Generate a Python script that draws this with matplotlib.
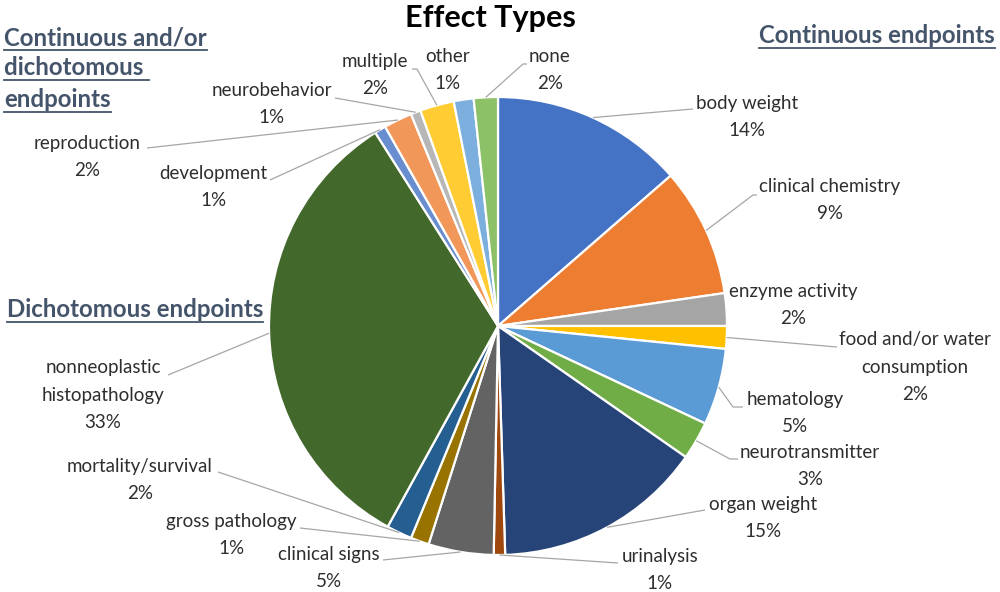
import numpy as np
import matplotlib

matplotlib.use("Agg")
import matplotlib.pyplot as plt

plt.rcParams["font.family"] = ["Lato", "DejaVu Sans"]

# slices clockwise from 12 o'clock, shares in %
effect_types = [
    "body weight", "clinical chemistry", "enzyme activity",
    "food and/or water\nconsumption", "hematology", "neurotransmitter",
    "organ weight", "urinalysis", "clinical signs", "gross pathology",
    "mortality/survival", "nonneoplastic\nhistopathology", "development",
    "reproduction", "neurobehavior", "multiple", "other", "none",
]
shares = [13.6, 9.1, 2.3, 1.6, 5.4, 2.7, 14.8, 0.8, 4.6, 1.3,
          1.8, 33.0, 0.8, 2.0, 0.7, 2.4, 1.4, 1.7]
slice_colors = [
    "#4472C4", "#ED7D31", "#A5A5A5", "#FFC000", "#5B9BD5", "#70AD47",
    "#264478", "#9E480E", "#636363", "#997300", "#255E91", "#43682B",
    "#698ED0", "#F1975A", "#B7B7B7", "#FFCD33", "#7CAFDD", "#8CC168",
]
group_headers = ["Continuous endpoints", "Dichotomous endpoints",
                 "Continuous and/or", "dichotomous ", "endpoints"]

# layout in image pixels (x right, y down)
W, H = 1000, 592
CX, CY, R = 498, 326, 229
label_xy = [(747, 117), (830, 200), (793, 305), (915, 367), (795, 413),
            (810, 466), (763, 518), (660, 570), (329, 568), (231, 535),
            (140, 480), (103, 395), (213, 187), (87, 157), (272, 104),
            (375, 75), (448, 70), (550, 70)]
leader_pts = [
    [(693, 109)], [(753, 195), (757, 195)], [], [(837, 347)],
    [(733, 407), (743, 407)], [(730, 459), (738, 459)], [(705, 510)],
    [(618, 563)], [(383, 560)], [(300, 528)], [(218, 472)], [(168, 375)],
    [(270, 180)], [(147, 148)], [(335, 98)], [(417, 69), (412, 69)], [],
    [(523, 64), (527, 64)],
]
header_xy = [(759, 43), (7, 317), (4, 45), (4, 75), (4, 107)]

LABEL_SIZE = 13.5
LABEL_COLOR = "#2E2E2E"
LEADER_COLOR = "#A6A6A6"
HEADER_COLOR = "#44546A"


def py(y):
    return H - y


fig = plt.figure(figsize=(W / 100, H / 100), dpi=100)
ax = fig.add_axes([0, 0, 1, 1])

wedges, _ = ax.pie(
    shares,
    colors=slice_colors,
    startangle=90,
    counterclock=False,
    center=(CX, py(CY)),
    radius=R,
    wedgeprops=dict(edgecolor="white", linewidth=1.6),
)
ax.set_xlim(0, W)
ax.set_ylim(0, H)
ax.set_aspect("equal")
ax.axis("off")

total = sum(shares)
for w, name, v, (lx, ly), pts in zip(wedges, effect_types, shares, label_xy, leader_pts):
    ax.text(lx, py(ly), f"{name}\n{100 * v / total:.0f}%", ha="center", va="center",
            multialignment="center", fontsize=LABEL_SIZE, color=LABEL_COLOR,
            linespacing=1.72)
    if pts:
        mid = np.deg2rad((w.theta1 + w.theta2) / 2)
        xs = [CX + R * np.cos(mid)] + [p[0] for p in pts]
        ys = [py(CY) + R * np.sin(mid)] + [py(p[1]) for p in pts]
        ax.plot(xs, ys, color=LEADER_COLOR, lw=0.9, solid_capstyle="butt")

ax.text(490, py(27), "Effect Types", ha="center", va="baseline",
        fontsize=22, fontweight="bold", color="black")

header_texts = []
for txt, (hx, hy) in zip(group_headers, header_xy):
    t = ax.text(hx, py(hy), txt, ha="left", va="baseline", fontsize=17.3,
                fontweight="bold", color=HEADER_COLOR)
    header_texts.append((t, hx, hy))

# underline the group headers
fig.canvas.draw()
renderer = fig.canvas.get_renderer()
for t, hx, hy in header_texts:
    bb = t.get_window_extent(renderer)
    ax.plot([bb.x0, bb.x1], [py(hy + 5)] * 2, color=HEADER_COLOR, lw=1.3)

fig.savefig("out.png", dpi=100)
plt.close(fig)
